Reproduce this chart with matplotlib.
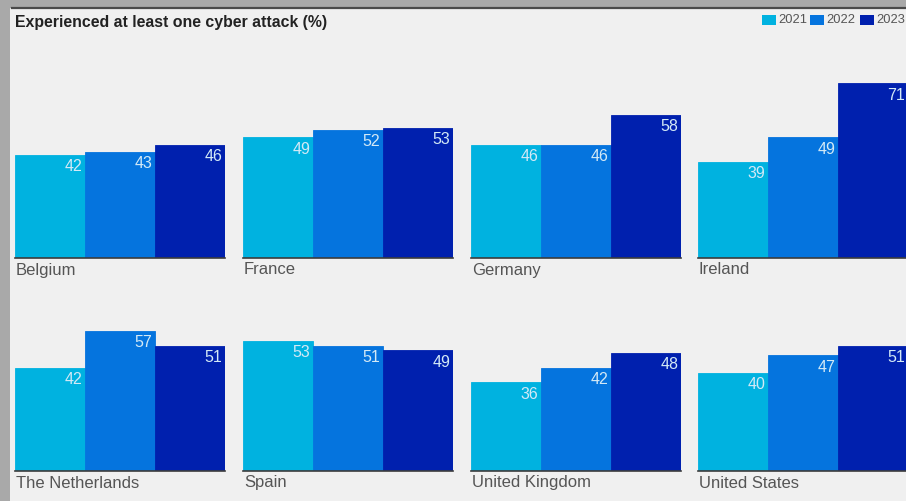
import matplotlib.pyplot as plt
from matplotlib.patches import Rectangle
from matplotlib.lines import Line2D

plt.rcParams['font.family'] = ['Liberation Sans', 'DejaVu Sans']

# data
countries = ['Belgium', 'France', 'Germany', 'Ireland',
             'The Netherlands', 'Spain', 'United Kingdom', 'United States']
years = ['2021', '2022', '2023']
v2021 = [42, 49, 46, 39, 42, 53, 36, 40]
v2022 = [43, 52, 46, 49, 57, 51, 42, 47]
v2023 = [46, 53, 58, 71, 51, 49, 48, 51]
colors = ['#00b2e0', '#0574de', '#0020ae']

W, H = 906, 501
fig = plt.figure(figsize=(W / 100, H / 100), dpi=100, facecolor='#a9a9a9')

# light background panel + top rule
fig.patches.append(Rectangle((10 / W, 0), 1, (H - 8) / H, transform=fig.transFigure,
                             facecolor='#f0f0f0', edgecolor='none', zorder=-5))
fig.lines.append(Line2D([12 / W, 1], [(H - 8) / H, (H - 8) / H], transform=fig.transFigure,
                        color='#4a4a4a', lw=1.6))

fig.text(15 / W, 1 - 23 / H, 'Experienced at least one cyber attack (%)',
         fontsize=11.4, fontweight='bold', color='#222222', va='center', ha='left')

# legend
leg_x = [762, 810, 860]
for i, yr in enumerate(years):
    fig.patches.append(Rectangle((leg_x[i] / W, 1 - 25 / H), 14 / W, 10 / H,
                                 transform=fig.transFigure, facecolor=colors[i],
                                 edgecolor='none'))
    fig.text((leg_x[i] + 16) / W, 1 - 20 / H, yr, fontsize=9.3, color='#555555',
             va='center', ha='left')

px_unit = 2.46
ymax = 80
panel_x = [15, 243, 471, 698]
baselines = [258, 471]
pw = 210

for k, name in enumerate(countries):
    row, col = divmod(k, 4)
    x0 = panel_x[col]
    base = baselines[row]
    ax = fig.add_axes([x0 / W, (H - base) / H, pw / W, ymax * px_unit / H])
    ax.set_xlim(-0.5, 2.5)
    ax.set_ylim(0, ymax)
    ax.axis('off')
    vals = [v2021[k], v2022[k], v2023[k]]
    ax.bar(range(3), vals, width=1.0, color=colors, edgecolor=colors, linewidth=0.6)
    ax.axhline(0, color='#3c3c3c', lw=1.2, clip_on=False)
    for i, v in enumerate(vals):
        ax.annotate(str(v), (i + 0.5, v), xytext=(-2, -3), textcoords='offset points',
                    ha='right', va='top', fontsize=11.5, color='#d3e9f6')
    fig.text((x0 + 1) / W, 1 - (base + 12) / H, name, fontsize=12, color='#555555',
             va='center', ha='left')

fig.savefig('out.png', dpi=100, facecolor=fig.get_facecolor())
